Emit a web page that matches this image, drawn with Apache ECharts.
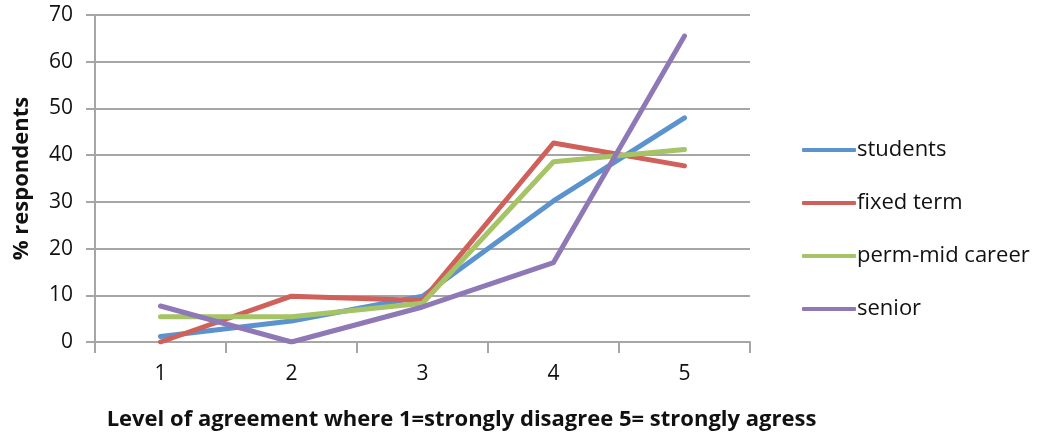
<!DOCTYPE html>
<html>
<head>
<meta charset="utf-8">
<script src="https://cdn.jsdelivr.net/npm/echarts@6/dist/echarts.min.js"></script>
<style>
  html, body { margin: 0; padding: 0; background: #fff; }
  #chart { width: 1042px; height: 437px; }
</style>
</head>
<body>
<div id="chart"></div>
<script>
// agreement levels on the x axis
const levels = ['1', '2', '3', '4', '5']

// % respondents per group
const students = [1.2, 4.5, 9.8, 30.2, 48.0]
const fixedTerm = [0, 9.8, 8.9, 42.6, 37.7]
const permMidCareer = [5.4, 5.4, 8.3, 38.6, 41.2]
const senior = [7.7, 0, 7.5, 17.0, 65.5]

const names = ['students', 'fixed term', 'perm-mid career', 'senior']
const colors = ['#5b93cf', '#d0605a', '#a6c366', '#8e78b5']

const font = '"Open Sans", "Liberation Sans", sans-serif'
const gridColor = '#a6a6a6'

function lineSeries(name, data, color) {
  return {
    name,
    type: 'line',
    data,
    symbol: 'none',
    lineStyle: { width: 5, color, cap: 'round', join: 'round' },
    itemStyle: { color },
    emphasis: { disabled: true }
  }
}

const chart = echarts.init(document.getElementById('chart'))
chart.setOption({
  animation: false,
  textStyle: { fontFamily: font },
  grid: { left: 95, right: 292, top: 15, bottom: 95, outerBoundsMode: 'none', containLabel: false },
  legend: {
    orient: 'vertical',
    left: 797,
    top: 134,
    itemGap: 31,
    itemWidth: 54,
    itemHeight: 4,
    icon: 'roundRect',
    textStyle: { fontSize: 22, color: '#111', fontFamily: font, padding: [0, 0, 0, -4] },
    data: names
  },
  xAxis: {
    type: 'category',
    data: levels,
    boundaryGap: true,
    name: 'Level of agreement where 1=strongly disagree 5= strongly agress',
    nameLocation: 'middle',
    nameGap: 67,
    nameTextStyle: { fontSize: 22, fontWeight: 'bold', color: '#111', padding: [0, 0, 0, 78] },
    axisLine: { lineStyle: { color: gridColor, width: 2 } },
    axisTick: { show: true, length: 11, lineStyle: { color: gridColor, width: 2 } },
    axisLabel: { fontSize: 21, color: '#111', margin: 22 }
  },
  yAxis: {
    type: 'value',
    min: 0,
    max: 70,
    interval: 10,
    name: '% respondents',
    nameLocation: 'middle',
    nameGap: 62,
    nameTextStyle: { fontSize: 22, fontWeight: 'bold', color: '#111' },
    axisLine: { show: true, lineStyle: { color: gridColor, width: 2 } },
    axisTick: { show: true, length: 9, lineStyle: { color: gridColor, width: 2 } },
    axisLabel: { fontSize: 21, color: '#111', margin: 22 },
    splitLine: { lineStyle: { color: gridColor, width: 2 } }
  },
  series: [
    lineSeries(names[0], students, colors[0]),
    lineSeries(names[1], fixedTerm, colors[1]),
    lineSeries(names[2], permMidCareer, colors[2]),
    lineSeries(names[3], senior, colors[3])
  ]
})
</script>
</body>
</html>
